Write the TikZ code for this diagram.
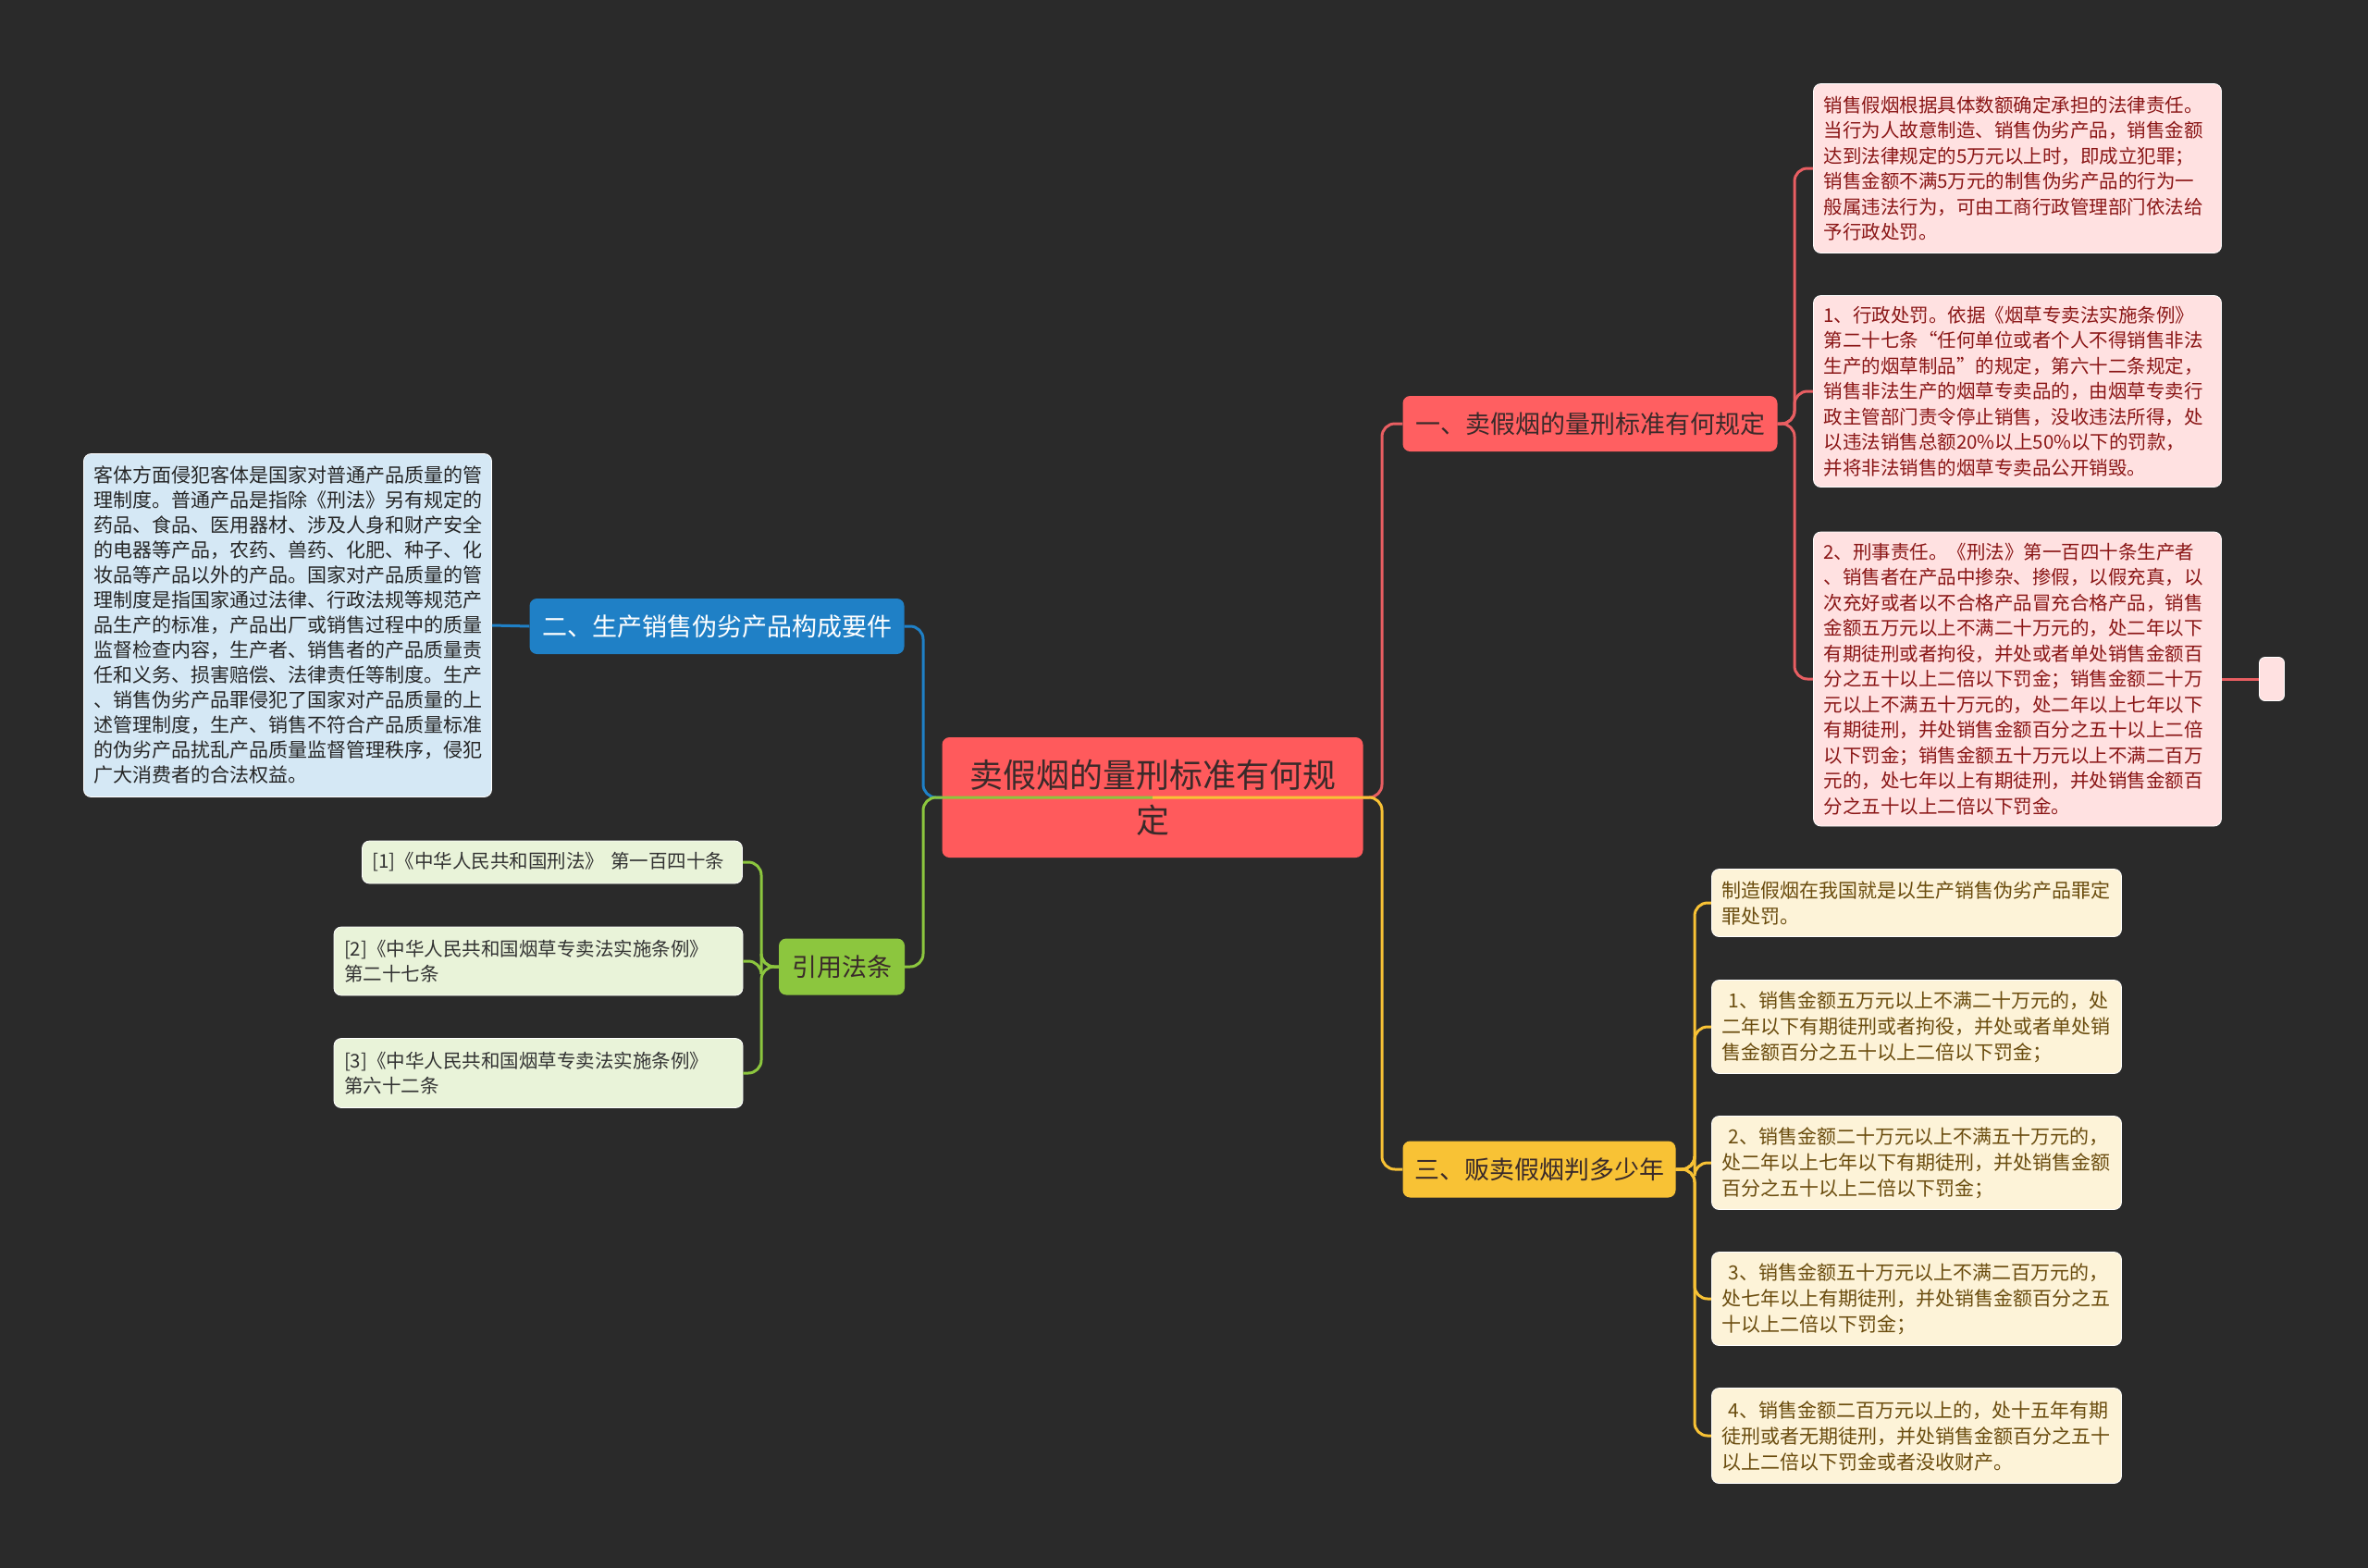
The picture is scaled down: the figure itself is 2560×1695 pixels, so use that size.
\documentclass[tikz,border=0pt]{standalone}
\usepackage{fontspec}
\setmainfont{Noto Sans CJK SC}
\definecolor{bgdark}{HTML}{2A2A2A}
\definecolor{rootred}{HTML}{FF5A5C}
\definecolor{brred}{HTML}{FF5F61}
\definecolor{linered}{HTML}{E85E62}
\definecolor{leafpink}{HTML}{FFE1E1}
\definecolor{txtred}{HTML}{8A1616}
\definecolor{brblue}{HTML}{1F80C6}
\definecolor{leafblue}{HTML}{D5E8F5}
\definecolor{bryellow}{HTML}{F8C235}
\definecolor{leafyellow}{HTML}{FDF3D8}
\definecolor{txtbrown}{HTML}{6A4C0E}
\definecolor{brgreen}{HTML}{8CC63E}
\definecolor{leafgreen}{HTML}{E9F3D9}
\definecolor{txtdark}{HTML}{3A2A2A}
\begin{document}
\begin{tikzpicture}[x=1pt, y=-1pt,
    box/.style={rounded corners=8pt, inner xsep=11pt, inner ysep=0pt, align=left},
    leaf/.style={box, draw=white, line width=0.8pt, font=\fontsize{20.5}{27.5}\selectfont},
    branch/.style={box, align=center, inner xsep=0pt, font=\fontsize{27}{32}\selectfont},
    conn/.style={line width=3pt, rounded corners=14pt}
]
\fill[bgdark] (0,0) rectangle (2560,1695);
\useasboundingbox (0,0) rectangle (2560,1695);

\node[box, fill=rootred, text=txtdark, align=center, minimum width=455pt, minimum height=130pt,
    font=\fontsize{36}{49}\selectfont] (root) at (1246,862) {卖假烟的量刑标准有何规\\定};

\node[branch, fill=brred, text=txtdark, minimum width=405pt, minimum height=60pt] (b1) at (1719,458) {一、卖假烟的量刑标准有何规定};
\node[branch, fill=brblue, text=white, minimum width=405pt, minimum height=60pt] (b2) at (775,677) {二、生产销售伪劣产品构成要件};
\node[branch, fill=bryellow, text=txtdark, minimum width=295pt, minimum height=61pt] (b3) at (1664,1264) {三、贩卖假烟判多少年};
\node[branch, fill=brgreen, text=txtdark, minimum width=136pt, minimum height=61pt] (b4) at (910,1045) {引用法条};

\node[leaf, fill=leafpink, text=txtred, text width=419pt, minimum height=183pt] (l1a) at (2181,182)
    {销售假烟根据具体数额确定承担的法律责任。\\当行为人故意制造、销售伪劣产品，销售金额\\达到法律规定的5万元以上时，即成立犯罪；\\销售金额不满5万元的制售伪劣产品的行为一\\般属违法行为，可由工商行政管理部门依法给\\予行政处罚。};
\node[leaf, fill=leafpink, text=txtred, text width=419pt, minimum height=207pt] (l1b) at (2181,423)
    {1、行政处罚。依据《烟草专卖法实施条例》\\第二十七条“任何单位或者个人不得销售非法\\生产的烟草制品”的规定，第六十二条规定，\\销售非法生产的烟草专卖品的，由烟草专卖行\\政主管部门责令停止销售，没收违法所得，处\\以违法销售总额20\%以上50\%以下的罚款，\\并将非法销售的烟草专卖品公开销毁。};
\node[leaf, fill=leafpink, text=txtred, text width=419pt, minimum height=318pt] (l1c) at (2181,734)
    {2、刑事责任。《刑法》第一百四十条生产者\\、销售者在产品中掺杂、掺假，以假充真，以\\次充好或者以不合格产品冒充合格产品，销售\\金额五万元以上不满二十万元的，处二年以下\\有期徒刑或者拘役，并处或者单处销售金额百\\分之五十以上二倍以下罚金；销售金额二十万\\元以上不满五十万元的，处二年以上七年以下\\有期徒刑，并处销售金额百分之五十以上二倍\\以下罚金；销售金额五十万元以上不满二百万\\元的，处七年以上有期徒刑，并处销售金额百\\分之五十以上二倍以下罚金。};
\node[box, draw=white, line width=0.8pt, fill=leafpink, inner xsep=0pt, rounded corners=6pt,
    minimum width=27pt, minimum height=47pt] (pad) at (2456,734) {};

\node[leaf, fill=leafblue, text=black!85, text width=419pt, minimum height=371pt,
    font=\fontsize{21}{27}\selectfont] (l2) at (311,676)
    {客体方面侵犯客体是国家对普通产品质量的管\\理制度。普通产品是指除《刑法》另有规定的\\药品、食品、医用器材、涉及人身和财产安全\\的电器等产品，农药、兽药、化肥、种子、化\\妆品等产品以外的产品。国家对产品质量的管\\理制度是指国家通过法律、行政法规等规范产\\品生产的标准，产品出厂或销售过程中的质量\\监督检查内容，生产者、销售者的产品质量责\\任和义务、损害赔偿、法律责任等制度。生产\\、销售伪劣产品罪侵犯了国家对产品质量的上\\述管理制度，生产、销售不符合产品质量标准\\的伪劣产品扰乱产品质量监督管理秩序，侵犯\\广大消费者的合法权益。};

\node[leaf, fill=leafgreen, text=black!80, text width=389pt, minimum height=46pt] (r1) at (597,932)
    {[1]《中华人民共和国刑法》 第一百四十条};
\node[leaf, fill=leafgreen, text=black!80, text width=420pt, minimum height=74pt] (r2) at (582,1039)
    {[2]《中华人民共和国烟草专卖法实施条例》\\第二十七条};
\node[leaf, fill=leafgreen, text=black!80, text width=420pt, minimum height=75pt] (r3) at (582,1160)
    {[3]《中华人民共和国烟草专卖法实施条例》\\第六十二条};

\node[leaf, fill=leafyellow, text=txtbrown, text width=421pt, minimum height=73pt,
    font=\fontsize{21}{28}\selectfont] (y0) at (2072,976)
    {制造假烟在我国就是以生产销售伪劣产品罪定\\罪处罚。};
\node[leaf, fill=leafyellow, text=txtbrown, text width=421pt, minimum height=101pt,
    font=\fontsize{21}{28}\selectfont] (y1) at (2072,1110)
    {~1、销售金额五万元以上不满二十万元的，处\\二年以下有期徒刑或者拘役，并处或者单处销\\售金额百分之五十以上二倍以下罚金；};
\node[leaf, fill=leafyellow, text=txtbrown, text width=421pt, minimum height=101pt,
    font=\fontsize{21}{28}\selectfont] (y2) at (2072,1257)
    {~2、销售金额二十万元以上不满五十万元的，\\处二年以上七年以下有期徒刑，并处销售金额\\百分之五十以上二倍以下罚金；};
\node[leaf, fill=leafyellow, text=txtbrown, text width=421pt, minimum height=101pt,
    font=\fontsize{21}{28}\selectfont] (y3) at (2072,1404)
    {~3、销售金额五十万元以上不满二百万元的，\\处七年以上有期徒刑，并处销售金额百分之五\\十以上二倍以下罚金；};
\node[leaf, fill=leafyellow, text=txtbrown, text width=421pt, minimum height=103pt,
    font=\fontsize{21}{28}\selectfont] (y4) at (2072,1552)
    {~4、销售金额二百万元以上的，处十五年有期\\徒刑或者无期徒刑，并处销售金额百分之五十\\以上二倍以下罚金或者没收财产。};

\coordinate (rt) at (1494,862);
\coordinate (lt) at (998,862);
\coordinate (t1) at (1940,458);
\coordinate (t3) at (1832,1264);
\coordinate (t4) at (823,1045);

\draw[conn, brblue] (root.west) -- (lt) |- (b2.east);
\draw[conn, brgreen] (root.center) -- (lt) |- (b4.east);
\draw[conn, linered] (root.east) -- (rt) |- (b1.west);
\draw[conn, bryellow] (root.center) -- (rt) |- (b3.west);

\draw[conn, linered] (b1.east) -- (t1) |- (l1a.west);
\draw[conn, linered] (b1.east) -- (t1) |- (l1b.west);
\draw[conn, linered] (b1.east) -- (t1) |- (l1c.west);
\draw[conn, linered] (l1c.east) -- (pad.west);

\draw[conn, brblue] (b2.west) -- (l2.east);

\draw[conn, brgreen] (b4.west) -- (t4) |- (r1.east);
\draw[conn, brgreen] (b4.west) -- (t4) |- (r2.east);
\draw[conn, brgreen] (b4.west) -- (t4) |- (r3.east);

\draw[conn, bryellow] (b3.east) -- (t3) |- (y0.west);
\draw[conn, bryellow] (b3.east) -- (t3) |- (y1.west);
\draw[conn, bryellow] (b3.east) -- (t3) |- (y2.west);
\draw[conn, bryellow] (b3.east) -- (t3) |- (y3.west);
\draw[conn, bryellow] (b3.east) -- (t3) |- (y4.west);
\end{tikzpicture}
\end{document}
